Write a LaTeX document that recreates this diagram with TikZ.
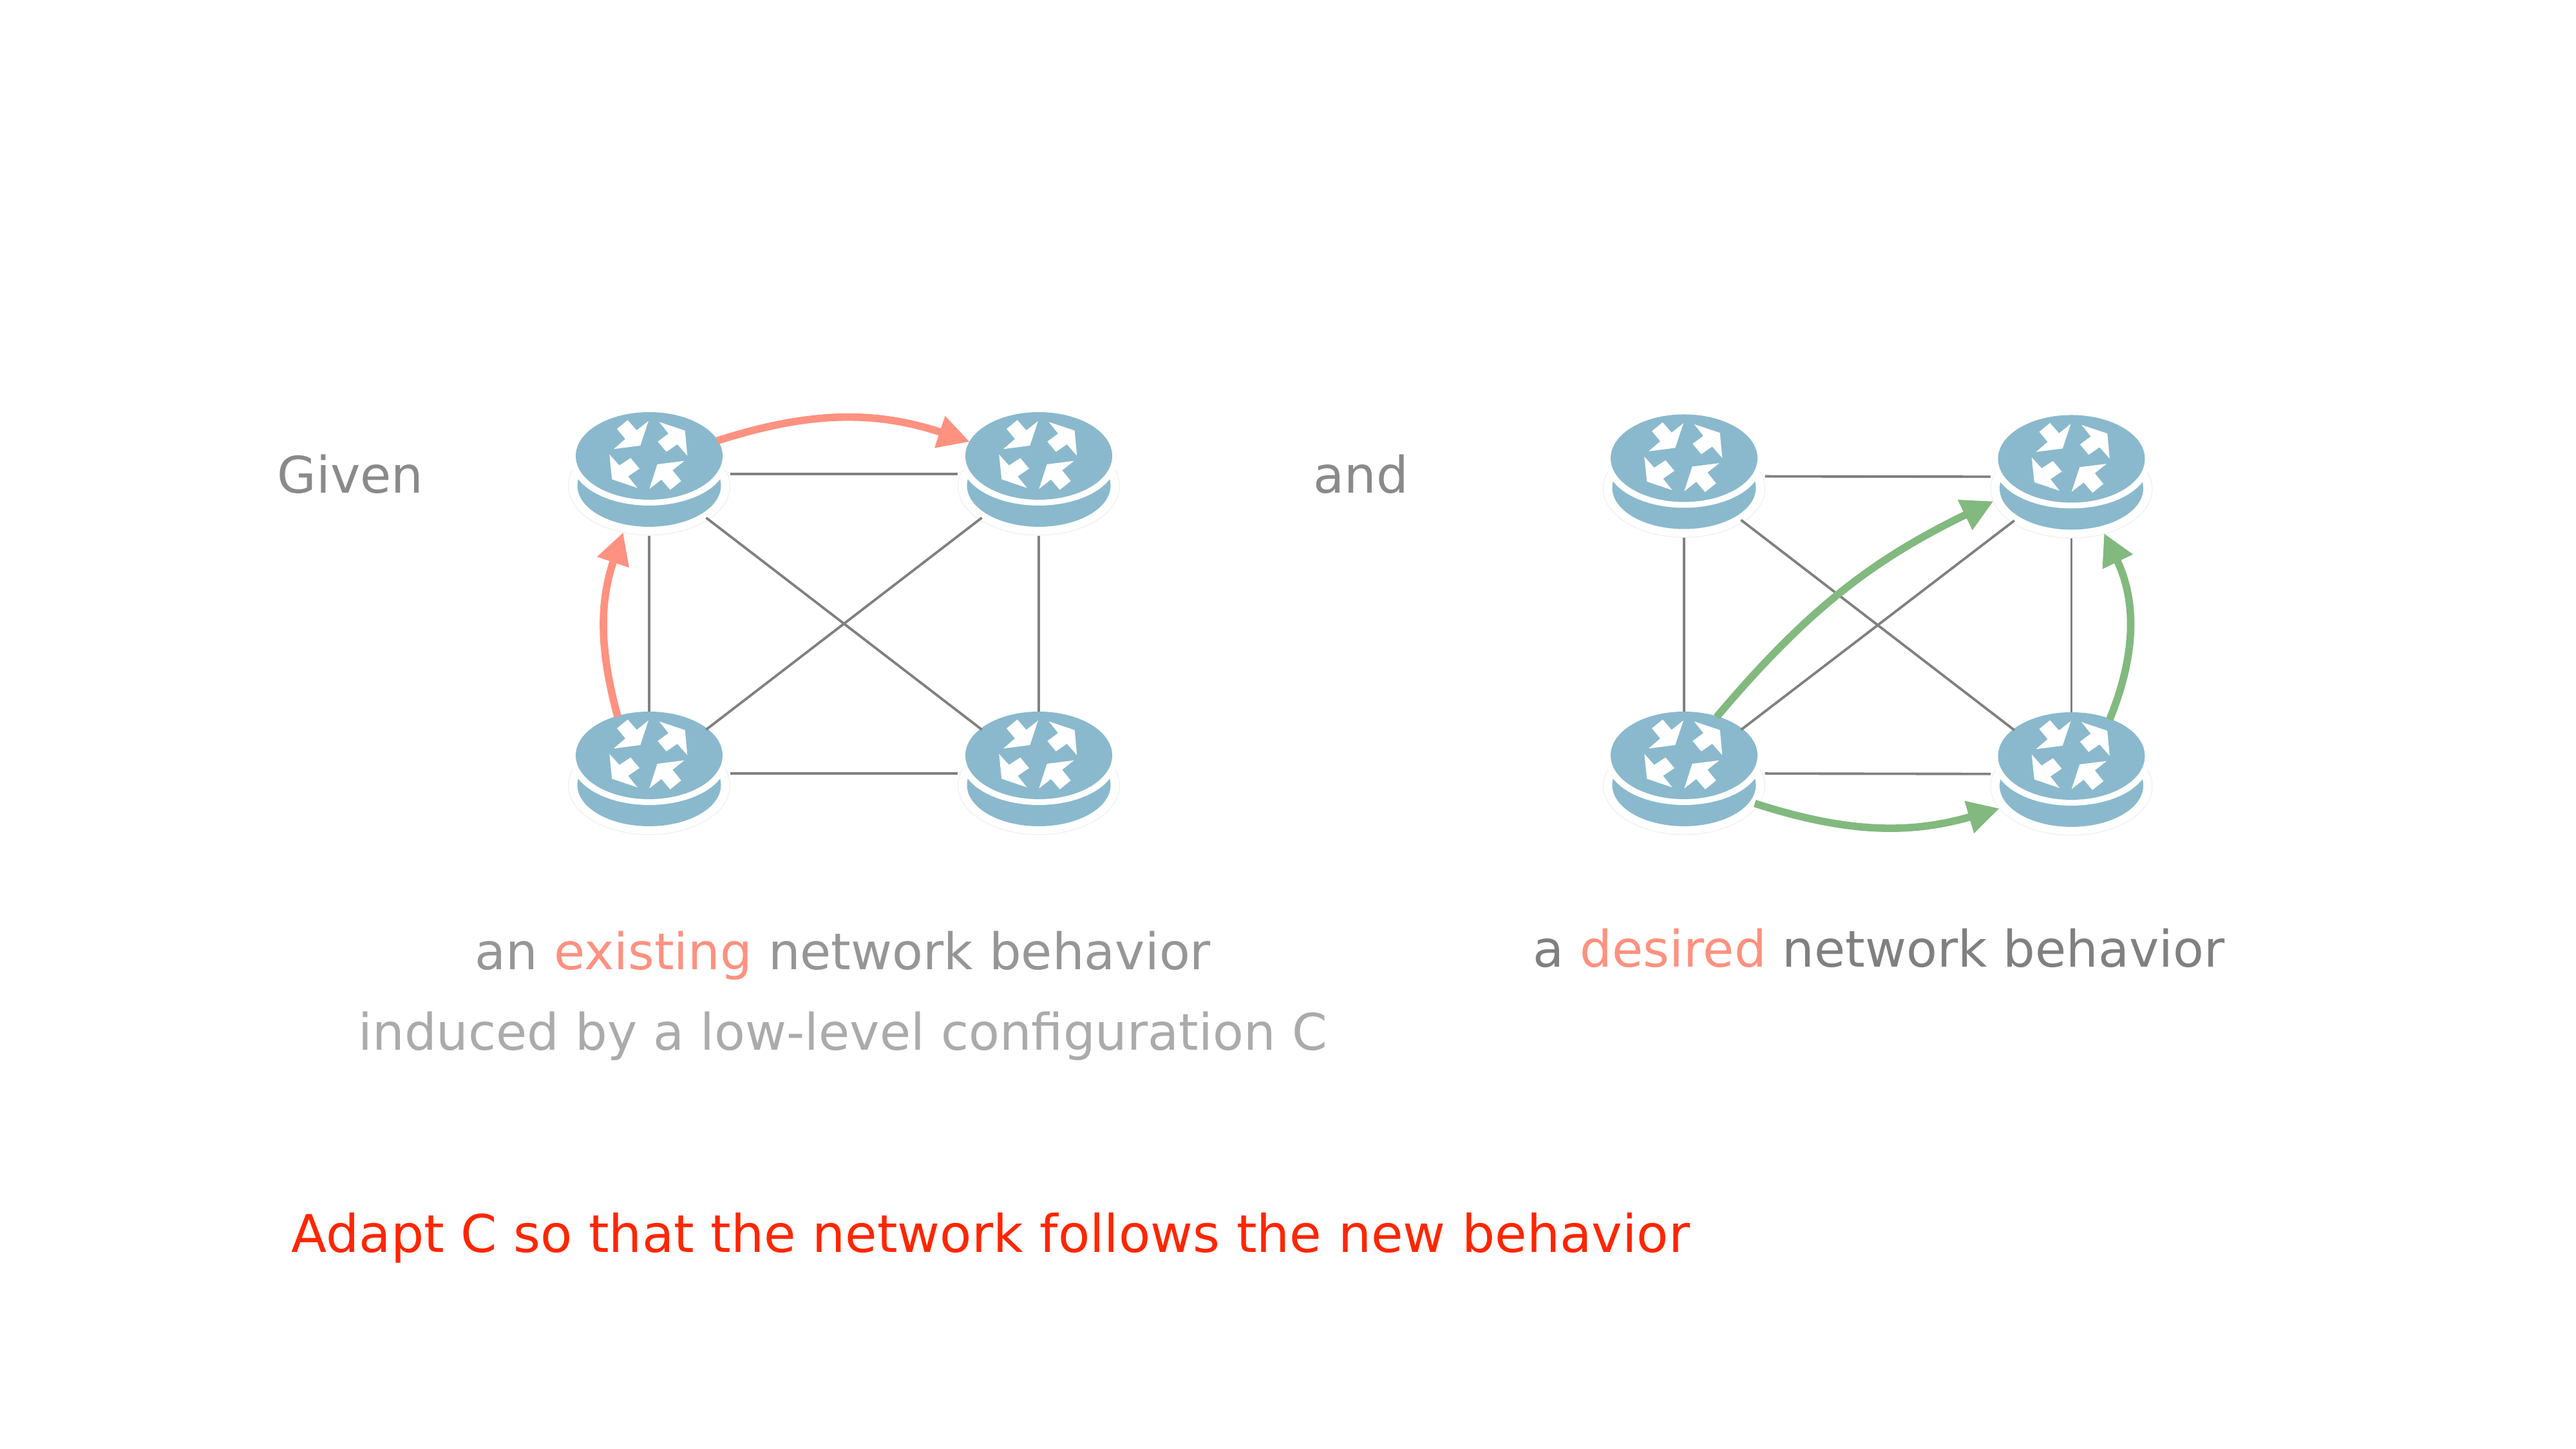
\documentclass[tikz,border=0pt]{standalone}
\usepackage{fontspec}
\setmainfont{DejaVu Sans}
\usetikzlibrary{arrows.meta,shapes.geometric}
\definecolor{routerblue}{HTML}{8AB9CD}
\definecolor{salmon}{HTML}{FF9180}
\definecolor{pathgreen}{HTML}{82B97F}
\definecolor{linkgray}{HTML}{808080}
\definecolor{haloline}{HTML}{EEEEEE}
\definecolor{textgray}{HTML}{8A8A8A}
\definecolor{existgray}{HTML}{969696}
\definecolor{desiregray}{HTML}{808080}
\definecolor{subgray}{HTML}{ABABAB}
\definecolor{alertred}{HTML}{FF2600}
\tikzset{
    routerbox/.style={ellipse, inner sep=0pt, minimum width=2.5cm, minimum height=1.9cm},
    link/.style={draw=linkgray, line width=1.1pt},
    existing/.style={draw=salmon, line width=3.3pt, -{Triangle[length=.49cm, width=.49cm]}},
    desired/.style={draw=pathgreen, line width=3.3pt, -{Triangle[length=.49cm, width=.49cm]}},
    label/.style={anchor=base west, inner sep=0pt, font=\fontsize{22.3}{27}\selectfont, text=textgray},
    pics/router/.style={code={
        \fill[white, draw=haloline, line width=.3pt] (0,-.19) ellipse (1.255 and .76);
        \fill[routerblue] (0,-.18) ellipse (1.115 and .64);
        \fill[white] (0,.19) ellipse (1.2 and .68);
        \fill[routerblue] (0,.28) ellipse (1.14 and .68);
        \begin{scope}[shift={(0,.28)}]
            \fill[white] (-.333,.557) -- (-.193,.397) -- (-.01,.543) -- (-.137,.16) -- (-.55,.107) -- (-.37,.263) -- (-.5,.42) -- cycle;
            \fill[white] (.157,.527) -- (.557,.393) -- (.593,.003) -- (.437,.18) -- (.267,.063) -- (.133,.223) -- (.3,.347) -- cycle;
            \fill[white] (-.617,.023) -- (-.463,-.147) -- (-.287,-.033) -- (-.15,-.197) -- (-.327,-.317) -- (-.183,-.497) -- (-.577,-.363) -- cycle;
            \fill[white] (.547,-.077) -- (.363,-.223) -- (.497,-.39) -- (.327,-.527) -- (.19,-.367) -- (.003,-.513) -- (.127,-.13) -- cycle;
        \end{scope}
    }},
}
\newcommand{\router}[2]{
    \node[routerbox] (#1) at (#2) {};
    \pic at (#2) {router};
}
\begin{document}
\begin{tikzpicture}
    \useasboundingbox (0,0) rectangle (40,22.5);
    % existing network
    \router{ea}{10.08,15.14}
    \router{eb}{16.13,15.14}
    \router{ec}{10.08,10.49}
    \router{ed}{16.13,10.49}
    \draw[link] (ea) -- (eb);
    \draw[link] (ea) -- (ec);
    \draw[link] (ea) -- (ed);
    \draw[link] (eb) -- (ec);
    \draw[link] (eb) -- (ed);
    \draw[link] (ec) -- (ed);
    \draw[existing] (ea.26) to[bend left=18] (eb.155);
    \draw[existing] (ec.119) to[bend left=17] (ea.246);
    % desired network
    \router{da}{26.15,15.105}
    \router{db}{32.165,15.095}
    \router{dc}{26.15,10.49}
    \router{dd}{32.165,10.48}
    \draw[link] (da) -- (db);
    \draw[link] (da) -- (dc);
    \draw[link] (da) -- (dd);
    \draw[link] (db) -- (dc);
    \draw[link] (db) -- (dd);
    \draw[link] (dc) -- (dd);
    \draw[desired, shorten >=.05cm] (dc.60) to[bend left=12] (db.197);
    \draw[desired, shorten >=.06cm] (dc.337) to[bend right=17] (dd.206);
    \draw[desired] (dd.55) to[bend right=24] (db.300);
    % texts
    \node[label] (given) at (4.30,14.84) {Given};
    \node[label] (and) at (20.39,14.84) {and};
    \node[label, text=existgray] (an) at (7.37,7.44) {an \textcolor{salmon}{existing} network behavior};
    \node[label, text=subgray] (induced) at (5.56,6.19) {induced by a low-level configuration C};
    \node[label, text=desiregray] (adesired) at (23.80,7.48) {a \textcolor{salmon}{desired} network behavior};
    \node[label, text=alertred, font=\fontsize{22.94}{27}\selectfont] (adapt) at (4.52,3.05) {Adapt C so that the network follows the new behavior};
\end{tikzpicture}
\end{document}
